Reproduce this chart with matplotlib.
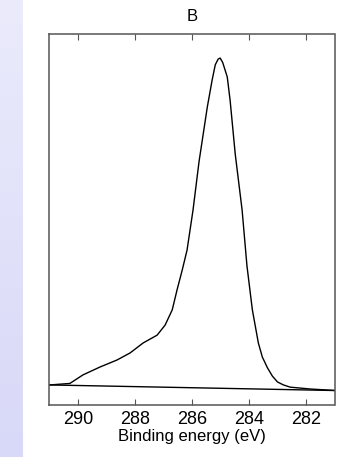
import numpy as np
import matplotlib
matplotlib.use("Agg")
import matplotlib.pyplot as plt
from matplotlib.colors import LinearSegmentedColormap

plt.rcParams['font.family'] = ['Liberation Sans', 'DejaVu Sans']

# Spectrum (binding energy in eV, intensity in arbitrary units)
energy = [290.98, 290.28, 289.82, 289.23, 288.63, 288.17, 287.71, 287.22,
          286.94, 286.69, 286.52, 286.34, 286.17, 285.96, 285.75,
          285.46, 285.29, 285.18, 285.08, 285.01, 284.92, 284.76, 284.66,
          284.48, 284.24, 284.07, 283.88, 283.67, 283.53, 283.35, 283.18,
          283.00, 282.79, 282.55, 281.84, 280.96]
intensity = [5.4, 5.8, 8.1, 10.2, 12.1, 14.0, 16.7, 18.8,
             21.5, 25.6, 31.0, 36.3, 41.7, 52.5, 65.5,
             80.2, 87.5, 91.6, 93.1, 93.4, 92.2, 88.3, 82.0,
             67.5, 52.5, 37.5, 25.6, 16.7, 12.9, 10.0, 7.8,
             6.2, 5.4, 4.8, 4.3, 3.9]
# Linear background
bg_energy = [291.0, 281.0]
bg_intensity = [5.4, 3.9]

xticks = [290, 288, 286, 284, 282]
title = "B"
xlabel = "Binding energy (eV)"

fig = plt.figure(figsize=(3.51, 4.57), dpi=100)

# lavender strip on the left
strip = fig.add_axes([0, 0, 23 / 351, 1])
grad = np.linspace(0, 1, 256).reshape(-1, 1)
cm = LinearSegmentedColormap.from_list("lav", ["#ebebfc", "#d8d8f8"])
strip.imshow(grad, aspect='auto', cmap=cm, extent=[0, 1, 0, 1], origin='upper')
strip.set_axis_off()

ax = fig.add_axes([49.3 / 351, 1 - 405 / 457, (334.5 - 49.3) / 351, (405 - 33.5) / 457])
ax.plot(energy, intensity, color='black', lw=1.0, solid_joinstyle='round')
ax.plot(bg_energy, bg_intensity, color='black', lw=1.0)
ax.set_xlim(291, 281)
ax.set_ylim(0, 100)
ax.set_xticks(xticks)
ax.set_xticklabels([str(t) for t in xticks])
ax.set_yticks([])
ax.tick_params(axis='x', direction='in', top=True, bottom=True, length=4,
               width=0.8, color='#555555', labelsize=13, pad=4)
for s in ax.spines.values():
    s.set_color('#555555')
    s.set_linewidth(1.1)
ax.set_title(title, fontsize=12, pad=9)
ax.set_xlabel(xlabel, fontsize=12, labelpad=1)

fig.savefig("out.png", dpi=100)
